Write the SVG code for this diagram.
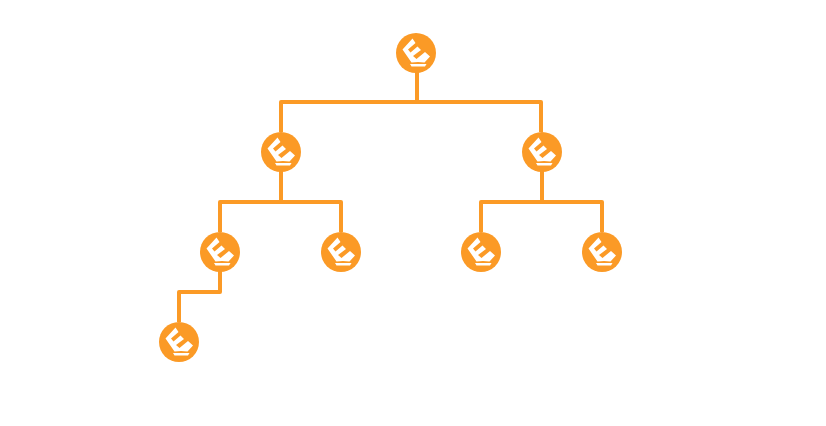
<svg xmlns="http://www.w3.org/2000/svg" width="826" height="426" viewBox="0 0 826 426">
<style>
.c{fill:none;stroke:#fb9a26;stroke-width:4;stroke-linejoin:round}
.b{fill:#fb9a26}
.g{fill:#fff}
</style>
<defs>
<g id="i">
<circle class="b" r="20"/>
<path class="g" d="M-3.500-14.500-13.500-3.500-4.500 9.500 2 9 8.500 9.500 14 3.500 9-1 0.500 6-3 3 5-3 1.500-6.500-5.500-0.500-8-3.500-0.500-10Z"/>
<path class="g" d="M-6 11H10.500L9 13.500H-4.500Z"/>
</g>
</defs>
<g id="connectors">
<path class="c" d="M417 72V102M281 132V102H541V132"/>
<path class="c" d="M281 171V202M220 232V202H341V232"/>
<path class="c" d="M542 171V202M481 232V202H602V232"/>
<path class="c" d="M220 271V292H179V322"/>
</g>
<g id="n1"><use href="#i" x="416" y="53"/></g>
<g id="n2"><use href="#i" x="281" y="152"/></g>
<g id="n3"><use href="#i" x="542" y="152"/></g>
<g id="n4"><use href="#i" x="220" y="252"/></g>
<g id="n5"><use href="#i" x="341" y="252"/></g>
<g id="n6"><use href="#i" x="481" y="252"/></g>
<g id="n7"><use href="#i" x="602" y="252"/></g>
<g id="n8"><use href="#i" x="179" y="342"/></g>
</svg>
